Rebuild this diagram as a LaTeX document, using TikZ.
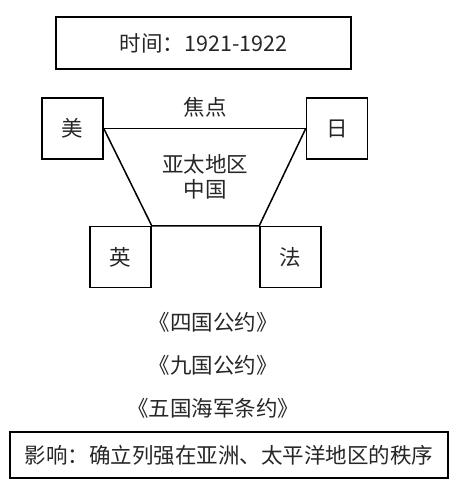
\documentclass[tikz,border=0pt]{standalone}
\usepackage{fontspec}
\setmainfont{Noto Sans CJK SC}
\usepackage{tikz}
\usetikzlibrary{positioning}

\begin{document}
\begin{tikzpicture}[x=1pt,y=-1pt,
    box/.style={draw,line width=1.5pt,inner sep=0pt,font=\fontsize{21.5}{25}\selectfont},
    land/.style={box,minimum width=61pt,minimum height=61pt},
    txt/.style={font=\fontsize{21.5}{25}\selectfont,inner sep=0pt,text=black!85}]
    \useasboundingbox (0,0) rectangle (454,484);
    \node[box,minimum width=295pt,minimum height=52pt,text=black!85] (time) at (203.5,43) {时间：1921-1922};
    % the four powers
    \node[land,text=black!85] (mei) at (72.5,128.5) {美};
    \node[land,text=black!85] (ri) at (337,128.5) {日};
    \node[land,text=black!85] (ying) at (120.5,257) {英};
    \node[land,text=black!85] (fa) at (290.5,257) {法};
    \draw[line width=1.5pt] (mei.east)--(ri.west);
    \draw[line width=1.5pt] (mei.east)--(ying.north east)--(fa.north west)--(ri.west);
    \node[txt] (focus) at (205,107) {焦点};
    \node[txt,align=center] (region) at (205,177) {亚太地区\\中国};
    % treaties
    \node[txt] (four) at (213,322) {《四国公约》};
    \node[txt] (nine) at (213,365) {《九国公约》};
    \node[txt] (five) at (213,408) {《五国海军条约》};
    \node[box,minimum width=438pt,minimum height=46pt,text=black!85] (impact) at (229,455) {影响：确立列强在亚洲、太平洋地区的秩序};
\end{tikzpicture}
\end{document}
